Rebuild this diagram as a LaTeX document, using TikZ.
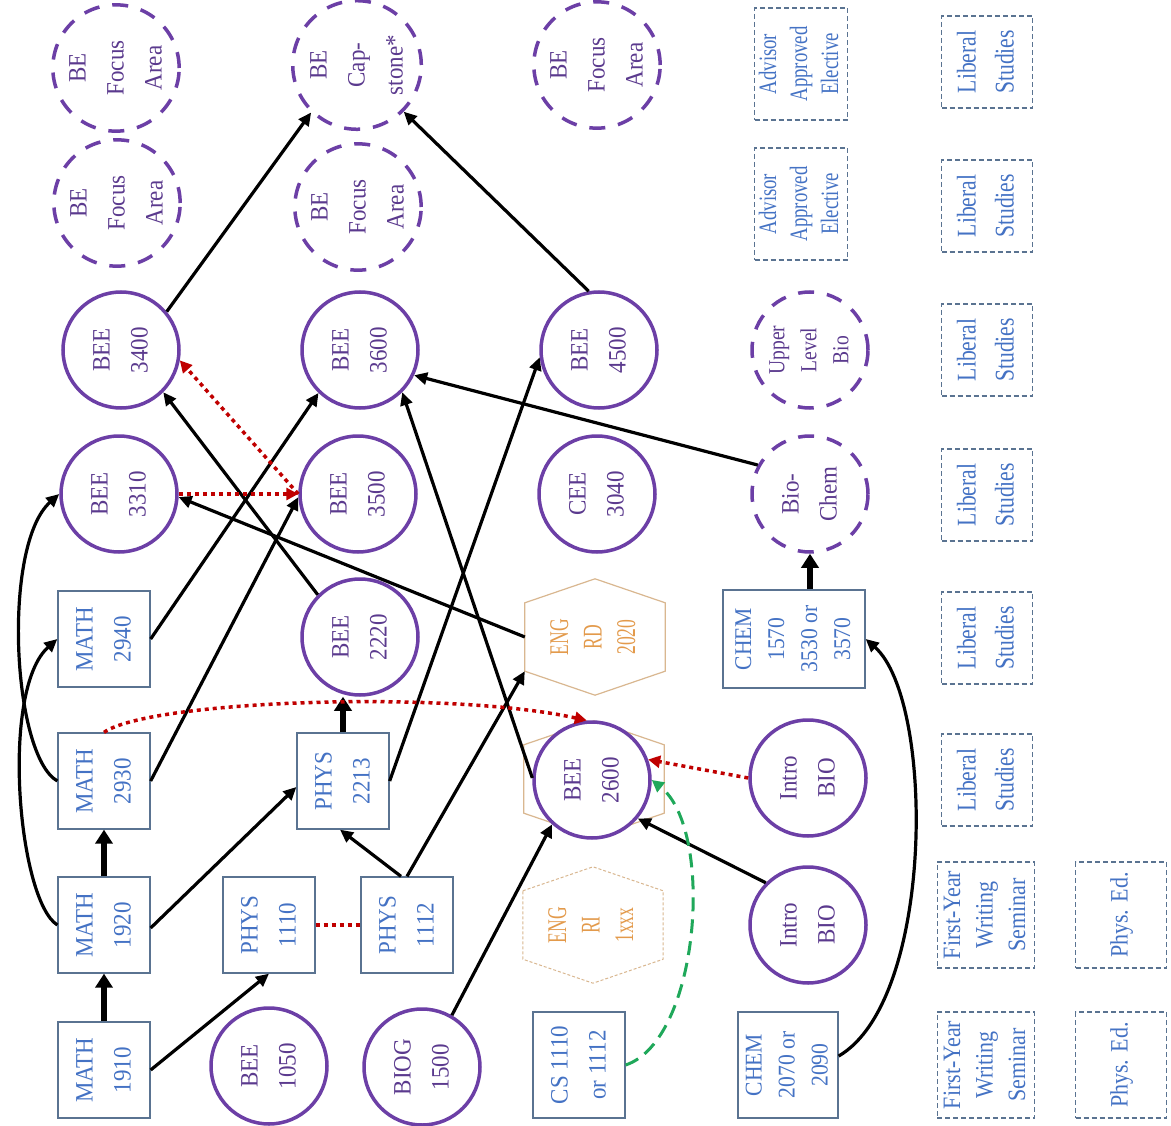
\documentclass[tikz,border=0pt]{standalone}
\usepackage{fontspec}
\usepackage{graphicx}
\setmainfont{Liberation Serif}
\usetikzlibrary{arrows.meta,calc}
\definecolor{boxblue}{HTML}{4472C4}
\definecolor{boxedge}{HTML}{5A7391}
\definecolor{purp}{HTML}{6C3FA6}
\definecolor{purptext}{HTML}{5B3A8E}
\definecolor{orng}{HTML}{E39A4B}
\definecolor{hexedge}{HTML}{D9B790}
\definecolor{dred}{HTML}{C00000}
\definecolor{grn}{HTML}{1FA85A}
\newcommand\rtxt[2][0.92]{\rotatebox{90}{\scalebox{#1}[1]{\begin{tabular}{@{}c@{}}#2\end{tabular}}}}
\newcommand\hexpath[2]{\draw[#2] (#1.north west) -- ($(#1.north)+(0,-24)$) -- (#1.north east) -- (#1.south east) -- ($(#1.south)+(0,24)$) -- (#1.south west) -- cycle;}
\pgfdeclarelayer{bg}
\pgfsetlayers{bg,main}
\tikzset{
  base/.style={inner sep=0pt, font=\fontsize{25}{38}\selectfont},
  box/.style={base, draw=boxedge, line width=1.3pt, fill=white, text=boxblue, minimum width=92pt, minimum height=96pt},
  circ/.style={base, circle, draw=purp, line width=3.5pt, fill=white, text=purptext, minimum size=116pt},
  dcirc/.style={circ, dash pattern=on 16pt off 13pt},
  dbox/.style={base, draw=boxedge, line width=1.1pt, dash pattern=on 5pt off 3pt, fill=white, text=boxblue, minimum width=91pt, minimum height=92pt},
  libbox/.style={dbox, font=\fontsize{27}{38}\selectfont},
  fybox/.style={dbox, minimum height=106pt, font=\fontsize{25}{32.5}\selectfont},
  advbox/.style={dbox, minimum width=93pt, minimum height=112pt, font=\fontsize{25}{31}\selectfont},
  hexn/.style={base, minimum width=140pt, minimum height=68pt, text=orng, font=\fontsize{27}{33.5}\selectfont},
  arr/.style={line width=3.2pt, -{Triangle[length=13pt,width=12pt]}},
  tarr/.style={line width=6pt, -{Triangle[length=14pt,width=17pt]}},
  rdotline/.style={dred, line width=3.5pt, dash pattern=on 4pt off 4pt},
  rdot/.style={rdotline, -{Triangle[length=12pt,width=12pt]}},
  gdash/.style={grn, line width=3pt, dash pattern=on 14pt off 8pt, -{Triangle[length=12pt,width=12pt]}},
}
\begin{document}
\begin{tikzpicture}[x=1pt,y=-1pt]
\useasboundingbox[fill=white] (0,0) rectangle (1171,1126);
% column A
\node[box] (m1910) at (104,1070) {\rtxt{MATH\\1910}};
\node[box] (m1920) at (104,925) {\rtxt{MATH\\1920}};
\node[box] (m2930) at (104,781) {\rtxt{MATH\\2930}};
\node[box] (m2940) at (104,639) {\rtxt{MATH\\2940}};
\node[circ] (b3310) at (119,494) {\rtxt{BEE\\3310}};
\node[circ] (b3400) at (121,350) {\rtxt{BEE\\3400}};
\node[dcirc] (fa1) at (117,203) {\rtxt{BE\\Focus\\Area}};
\node[dcirc] (fa2) at (116,68) {\rtxt{BE\\Focus\\Area}};
% columns B, C, D
\node[box] (p1110) at (269,925) {\rtxt{PHYS\\1110}};
\node[circ] (b1050) at (269,1066) {\rtxt{BEE\\1050}};
\node[box, fill opacity=0.7, text opacity=1] (p2213) at (343,781) {\rtxt{PHYS\\2213}};
\node[circ] (b2220) at (360,637) {\rtxt{BEE\\2220}};
\node[circ] (b3500) at (358,494) {\rtxt{BEE\\3500}};
\node[circ] (b3600) at (360,350) {\rtxt{BEE\\3600}};
\node[dcirc] (fa3) at (358,207) {\rtxt{BE\\Focus\\Area}};
\node[dcirc] (cap) at (357,65) {\rtxt{BE\\Cap-\\stone*}};
\node[box] (p1112) at (407,925) {\rtxt{PHYS\\1112}};
\node[circ] (b1500) at (422,1067) {\rtxt{BIOG\\1500}};
% column E
\node[box, minimum height=106pt] (cs) at (579,1065) {\rtxt{CS 1110\\or 1112}};
\node[hexn] (engri) at (593,925) {\rtxt[0.65]{ENG\\RI\\1xxx}};
\hexpath{engri}{hexedge, line width=1pt, dash pattern=on 3pt off 2pt}
\node[hexn] (enghid) at (594,779) {};
\hexpath{enghid}{hexedge, line width=1.2pt}
\node[circ] (b2600) at (592,780) {\rtxt{BEE\\2600}};
\node[hexn] (engrd) at (595,637) {\rtxt[0.65]{ENG\\RD\\2020}};
\hexpath{engrd}{hexedge, line width=1.2pt}
\node[circ] (cee) at (597,494) {\rtxt{CEE\\3040}};
\node[circ] (b4500) at (599,350) {\rtxt{BEE\\4500}};
\node[dcirc] (fa4) at (597,65) {\rtxt{BE\\Focus\\Area}};
% column F
\node[box, minimum width=100pt, minimum height=106pt, font=\fontsize{24}{33}\selectfont] (chemA) at (788,1065) {\rtxt[0.9]{CHEM\\2070 or\\2090}};
\node[circ] (bio1) at (808,925) {\rtxt{Intro\\BIO}};
\node[circ] (bio2) at (808,778) {\rtxt{Intro\\BIO}};
\node[box, minimum width=142pt, minimum height=98pt, font=\fontsize{24}{33}\selectfont] (chemB) at (794,639) {\rtxt[0.9]{CHEM\\1570\\3530 or\\3570}};
\node[dcirc] (biochem) at (810,494) {\rtxt{Bio-\\Chem}};
\node[dcirc, font=\fontsize{23}{32}\selectfont] (ulbio) at (810,350) {\rtxt[0.85]{Upper\\Level\\Bio}};
\node[advbox] (adv1) at (801,204) {\rtxt[0.75]{Advisor\\Approved\\Elective}};
\node[advbox] (adv2) at (801,64) {\rtxt[0.75]{Advisor\\Approved\\Elective}};
% columns G, H
\node[libbox] (ls1) at (987,62) {\rtxt[0.8]{Liberal\\Studies}};
\node[libbox] (ls2) at (987,206) {\rtxt[0.8]{Liberal\\Studies}};
\node[libbox] (ls3) at (987,350) {\rtxt[0.8]{Liberal\\Studies}};
\node[libbox] (ls4) at (987,495) {\rtxt[0.8]{Liberal\\Studies}};
\node[libbox] (ls5) at (987,638) {\rtxt[0.8]{Liberal\\Studies}};
\node[libbox] (ls6) at (987,780) {\rtxt[0.8]{Liberal\\Studies}};
\node[fybox] (fy1) at (986,915) {\rtxt[0.88]{First-Year\\Writing\\Seminar}};
\node[fybox] (fy2) at (986,1065) {\rtxt[0.88]{First-Year\\Writing\\Seminar}};
\node[fybox] (pe1) at (1121,915) {\rtxt[0.88]{Phys. Ed.}};
\node[fybox] (pe2) at (1121,1065) {\rtxt[0.88]{Phys. Ed.}};
% connector that runs under PHYS 2213
\begin{pgfonlayer}{bg}
\draw[arr] ($(m1920.east)+(0,22)$) -- (cee.225);
\end{pgfonlayer}
% connectors
\draw[tarr] (m1910) -- (m1920);
\draw[tarr] (m1920) -- (m2930);
\draw[arr] (m1910.east) -- (p1110.south);
\draw[arr] ($(m1920.east)+(0,3)$) -- ($(p2213.west)+(0,6)$);
\draw[arr] (m2930.east) -- (b3500.183);
\draw[arr] (m2940.east) -- (b3600.226);
\draw[arr] (m1920.west) .. controls (18,900) and (0,690) .. (m2940.west);
\draw[arr] (m2930.west) .. controls (12,755) and (2,545) .. (b3310.west);
\draw[tarr] (p2213) -- (p2213.north |- b2220.south);
\draw[arr] ($(p1112.north)+(-6,0)$) -- ($(p2213.south)+(-3,0)$);
\draw[arr] (p1112.north) -- (engrd.south west);
\draw[arr] (p2213.east) -- (b4500.187);
\draw[arr] (b2220.135) -- (b3400.-45);
\draw[arr] (engrd.west) -- (b3310.-3);
\draw[arr] (b2600.178) -- (b3600.-45);
\draw[arr] (biochem.151) -- (b3600.-25);
\draw[arr] (b3400.40) -- (cap.226);
\draw[arr] (b4500.100) -- (cap.-45);
\draw[arr] (b1500.60) -- (b2600.228);
\draw[arr] (bio1.135) -- (b2600.-40);
\draw[rdot] (bio2.west) -- (b2600.20);
\draw[rdot] (m2930.north) .. controls (150,700) and (450,690) .. (b2600.95);
\draw[gdash] (cs.east) .. controls (700,1040) and (715,830) .. (b2600.east);
\draw[arr] (chemA.10) .. controls (935,1000) and (935,700) .. (chemB.east);
\draw[tarr] (biochem |- chemB.north) -- (biochem);
\draw[rdotline] (p1110) -- (p1112);
\draw[rdot] (b3310) -- (b3500);
\draw[rdot] (b3500.west) -- (b3400.-10);
\end{tikzpicture}
\end{document}
